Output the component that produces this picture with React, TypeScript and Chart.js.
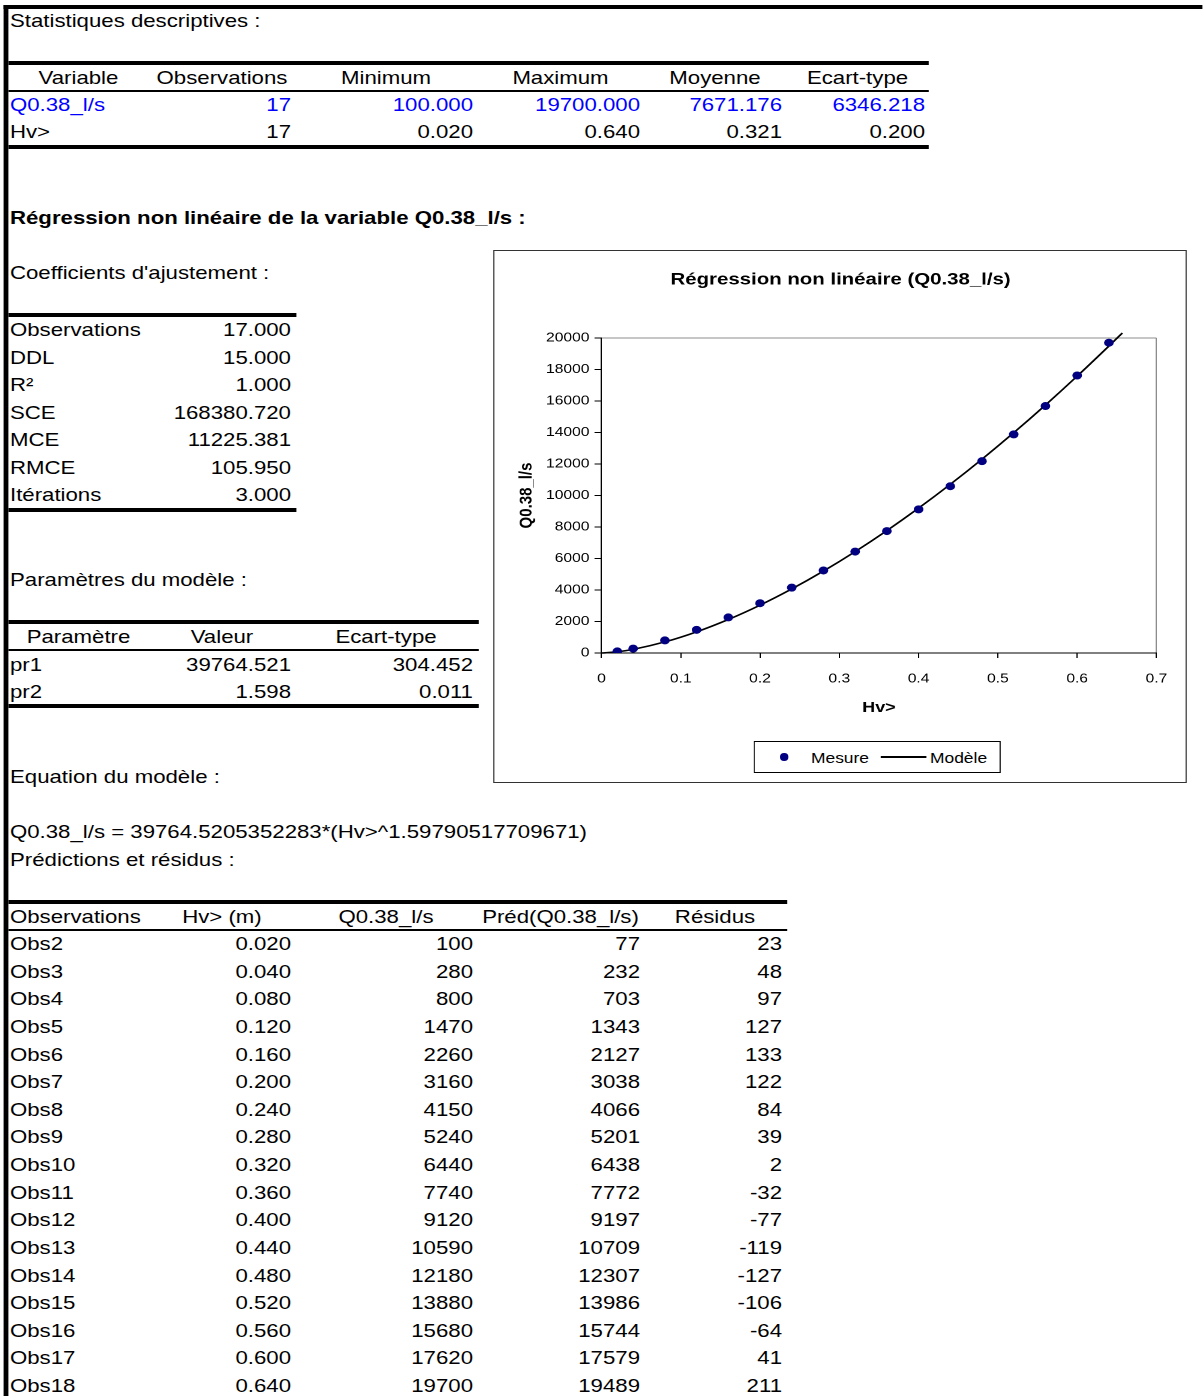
import React, { useEffect, useRef } from "react";
import { Chart, registerables } from "chart.js";

Chart.register(...registerables);

// ---------- data ----------
const statVars = ["Q0.38_l/s", "Hv>"];
const statObs = ["17", "17"];
const statMin = ["100.000", "0.020"];
const statMax = ["19700.000", "0.640"];
const statMean = ["7671.176", "0.321"];
const statSd = ["6346.218", "0.200"];

const coefLabels = ["Observations", "DDL", "R²", "SCE", "MCE", "RMCE", "Itérations"];
const coefValues = ["17.000", "15.000", "1.000", "168380.720", "11225.381", "105.950", "3.000"];

const paramNames = ["pr1", "pr2"];
const paramValues = ["39764.521", "1.598"];
const paramSd = ["304.452", "0.011"];

const obsNames = ["Obs2", "Obs3", "Obs4", "Obs5", "Obs6", "Obs7", "Obs8", "Obs9", "Obs10", "Obs11", "Obs12", "Obs13", "Obs14", "Obs15", "Obs16", "Obs17", "Obs18"];
const hv = [0.02, 0.04, 0.08, 0.12, 0.16, 0.2, 0.24, 0.28, 0.32, 0.36, 0.4, 0.44, 0.48, 0.52, 0.56, 0.6, 0.64];
const qMeasured = [100, 280, 800, 1470, 2260, 3160, 4150, 5240, 6440, 7740, 9120, 10590, 12180, 13880, 15680, 17620, 19700];
const qPredicted = [77, 232, 703, 1343, 2127, 3038, 4066, 5201, 6438, 7772, 9197, 10709, 12307, 13986, 15744, 17579, 19489];
const residuals = [23, 48, 97, 127, 133, 122, 84, 39, 2, -32, -77, -119, -127, -106, -64, 41, 211];

// model curve points (start at origin, end just above the top)
const modelStart = { x: 0, y: 0 };
const modelEnd = { x: 0.657, y: 20320 };

const xTicks = [0, 0.1, 0.2, 0.3, 0.4, 0.5, 0.6, 0.7];
const yTicks = [0, 2000, 4000, 6000, 8000, 10000, 12000, 14000, 16000, 18000, 20000];

const equation = "Q0.38_l/s = 39764.5205352283*(Hv>^1.59790517709671)";

// ---------- layout helpers ----------
const SX = 1.2;
const X = (v: number) => v / SX;
const FONT = '"Liberation Sans", Arial, Helvetica, sans-serif';
const FS = 18.5;
const NAVY = "#000080";
const EDGES = [8, 149, 295, 477, 644, 786, 929];
const DY = 1;

function Text(props: { x: number; cy: number; bold?: boolean; color?: string; children: any }) {
  return (
    <div
      style={{
        position: "absolute",
        left: X(props.x),
        top: props.cy - 14 + DY,
        height: 28,
        lineHeight: "28px",
        whiteSpace: "nowrap",
        fontWeight: props.bold ? "bold" : "normal",
        color: props.color || "#000",
      }}
    >
      {props.children}
    </div>
  );
}

function Cell(props: { col: number; cy: number; align: "left" | "right" | "center"; color?: string; children: any }) {
  const l = EDGES[props.col];
  const r = EDGES[props.col + 1];
  return (
    <div
      style={{
        position: "absolute",
        left: X(l),
        width: X(r - l),
        top: props.cy - 14 + DY,
        height: 28,
        lineHeight: "28px",
        whiteSpace: "nowrap",
        textAlign: props.align,
        paddingLeft: props.align === "left" ? X(2) : 0,
        paddingRight: props.align === "right" ? X(4) : 0,
        boxSizing: "border-box",
        color: props.color || "#000",
      }}
    >
      {props.children}
    </div>
  );
}

function HLine(props: { x1: number; x2: number; y: number; h: number }) {
  return (
    <div
      style={{
        position: "absolute",
        left: X(props.x1),
        width: X(props.x2 - props.x1),
        top: props.y,
        height: props.h,
        background: "#000",
      }}
    />
  );
}

function RegressionChart() {
  const ref = useRef<HTMLCanvasElement>(null);
  useEffect(() => {
    if (!ref.current) return;
    const measured = hv.map((x, i) => ({ x, y: qMeasured[i] }));
    const model = [modelStart, ...hv.map((x, i) => ({ x, y: qPredicted[i] })), modelEnd];
    const tickFont = { family: FONT, size: 13 };
    const chart = new Chart(ref.current, {
      type: "scatter",
      data: {
        datasets: [
          {
            label: "Mesure",
            data: measured,
            showLine: false,
            pointRadius: 4,
            pointBackgroundColor: NAVY,
            pointBorderColor: NAVY,
            pointBorderWidth: 0,
          },
          {
            label: "Modèle",
            data: model,
            showLine: true,
            pointRadius: 0,
            borderColor: "#000",
            borderWidth: 1.6,
            cubicInterpolationMode: "monotone",
            clip: { left: 2, right: 2, top: 6, bottom: 2 },
          } as any,
        ],
      },
      options: {
        responsive: false,
        animation: false,
        devicePixelRatio: 2,
        layout: { padding: { left: 0, right: 0, top: 0, bottom: 59 } },
        plugins: {
          legend: { display: false },
          tooltip: { enabled: false },
          title: {
            display: true,
            text: "Régression non linéaire (Q0.38_l/s)",
            color: "#000",
            font: { family: FONT, size: 17, weight: "bold" },
            padding: { top: 17.8, bottom: 47.8 },
          },
        },
        scales: {
          x: {
            type: "linear",
            position: "bottom",
            min: xTicks[0],
            max: xTicks[xTicks.length - 1],
            afterFit: (s: any) => {
              s.height = 70;
            },
            afterBuildTicks: (s: any) => {
              s.ticks = xTicks.map((v) => ({ value: v }));
            },
            ticks: {
              color: "#000",
              font: tickFont,
              padding: 13,
              callback: (v: any) => String(Number(Number(v).toFixed(1))),
            },
            grid: {
              color: (c: any) => (c.tick && c.tick.value > 0.69 ? "#8c8c8c" : "rgba(0,0,0,0)"),
              tickColor: "#000",
              tickLength: 5,
              lineWidth: 1,
            },
            border: { display: true, color: "#000", width: 1 },
            title: {
              display: true,
              text: "Hv>",
              color: "#000",
              font: { family: FONT, size: 15, weight: "bold" },
              padding: { top: 0, bottom: 6 },
            },
          },
          y: {
            type: "linear",
            position: "left",
            min: yTicks[0],
            max: yTicks[yTicks.length - 1],
            afterFit: (s: any) => {
              s.width = 89.2;
            },
            afterBuildTicks: (s: any) => {
              s.ticks = yTicks.map((v) => ({ value: v }));
            },
            ticks: {
              color: "#000",
              font: tickFont,
              padding: 4.2,
              callback: (v: any) => String(v),
            },
            grid: {
              color: (c: any) => (c.tick && c.tick.value > 19999 ? "#8c8c8c" : "rgba(0,0,0,0)"),
              tickColor: "#000",
              tickLength: 5.8,
              lineWidth: 1,
            },
            border: { display: true, color: "#000", width: 1 },
            title: {
              display: true,
              text: "Q0.38_l/s",
              color: "#000",
              font: { family: FONT, size: 15, weight: "bold" },
              padding: { top: 17.7, bottom: 0 },
            },
          },
          y2: {
            type: "linear",
            position: "right",
            display: true,
            afterFit: (s: any) => {
              s.width = 25.3;
            },
            ticks: { display: false },
            grid: { display: false, drawTicks: false },
            border: { display: false },
          },
        },
      } as any,
    });
    return () => chart.destroy();
  }, []);
  return (
    <canvas
      ref={ref}
      width={577}
      height={530}
      style={{ position: "absolute", left: X(494), top: 252, width: 577, height: 530 }}
    />
  );
}

export default function App() {
  const t4Row = (i: number) => 943 + i * 27.625;
  return (
    <div
      style={{
        position: "absolute",
        left: 0,
        top: 0,
        width: X(1203),
        height: 1396,
        transform: `scaleX(${SX})`,
        transformOrigin: "0 0",
        fontFamily: FONT,
        fontSize: FS,
        color: "#000",
        background: "#fff",
        overflow: "hidden",
      }}
    >
      {/* sheet borders */}
      <div style={{ position: "absolute", left: X(4), top: 5, width: X(4), height: 1391, background: "#000" }} />
      <div style={{ position: "absolute", left: X(4), top: 5, width: X(1199), height: 4, background: "#000" }} />

      <Text x={10} cy={20}>Statistiques descriptives :</Text>

      {/* table 1 */}
      <HLine x1={8} x2={929} y={61} h={4} />
      <Cell col={0} cy={77} align="center">Variable</Cell>
      <Cell col={1} cy={77} align="center">Observations</Cell>
      <Cell col={2} cy={77} align="center">Minimum</Cell>
      <Cell col={3} cy={77} align="center">Maximum</Cell>
      <Cell col={4} cy={77} align="center">Moyenne</Cell>
      <Cell col={5} cy={77} align="center">Ecart-type</Cell>
      <HLine x1={8} x2={929} y={90} h={2} />
      {statVars.map((v, i) => {
        const cy = 104 + i * 27;
        const color = i === 0 ? "#0000ff" : "#000";
        return (
          <React.Fragment key={v}>
            <Cell col={0} cy={cy} align="left" color={color}>{v}</Cell>
            <Cell col={1} cy={cy} align="right" color={color}>{statObs[i]}</Cell>
            <Cell col={2} cy={cy} align="right" color={color}>{statMin[i]}</Cell>
            <Cell col={3} cy={cy} align="right" color={color}>{statMax[i]}</Cell>
            <Cell col={4} cy={cy} align="right" color={color}>{statMean[i]}</Cell>
            <Cell col={5} cy={cy} align="right" color={color}>{statSd[i]}</Cell>
          </React.Fragment>
        );
      })}
      <HLine x1={8} x2={929} y={145} h={4} />

      <Text x={10} cy={217} bold>Régression non linéaire de la variable Q0.38_l/s :</Text>
      <Text x={10} cy={272}>Coefficients d'ajustement :</Text>

      {/* table 2 */}
      <HLine x1={8} x2={296} y={313} h={4} />
      {coefLabels.map((l, i) => {
        const cy = 329 + i * 27.5;
        return (
          <React.Fragment key={l}>
            <Cell col={0} cy={cy} align="left">{l}</Cell>
            <Cell col={1} cy={cy} align="right">{coefValues[i]}</Cell>
          </React.Fragment>
        );
      })}
      <HLine x1={8} x2={296} y={508} h={4} />

      <Text x={10} cy={579}>Paramètres du modèle :</Text>

      {/* table 3 */}
      <HLine x1={8} x2={479} y={620} h={4} />
      <Cell col={0} cy={636} align="center">Paramètre</Cell>
      <Cell col={1} cy={636} align="center">Valeur</Cell>
      <Cell col={2} cy={636} align="center">Ecart-type</Cell>
      <HLine x1={8} x2={479} y={649} h={2} />
      {paramNames.map((p, i) => {
        const cy = 664 + i * 27;
        return (
          <React.Fragment key={p}>
            <Cell col={0} cy={cy} align="left">{p}</Cell>
            <Cell col={1} cy={cy} align="right">{paramValues[i]}</Cell>
            <Cell col={2} cy={cy} align="right">{paramSd[i]}</Cell>
          </React.Fragment>
        );
      })}
      <HLine x1={8} x2={479} y={704} h={4} />

      <Text x={10} cy={776}>Equation du modèle :</Text>
      <Text x={10} cy={831}>{equation}</Text>
      <Text x={10} cy={859}>Prédictions et résidus :</Text>

      {/* table 4 */}
      <HLine x1={8} x2={787} y={900} h={4} />
      <Cell col={0} cy={916} align="left">Observations</Cell>
      <Cell col={1} cy={916} align="center">Hv&gt; (m)</Cell>
      <Cell col={2} cy={916} align="center">Q0.38_l/s</Cell>
      <Cell col={3} cy={916} align="center">Préd(Q0.38_l/s)</Cell>
      <Cell col={4} cy={916} align="center">Résidus</Cell>
      <HLine x1={8} x2={787} y={929} h={2} />
      {obsNames.map((o, i) => {
        const cy = t4Row(i);
        return (
          <React.Fragment key={o}>
            <Cell col={0} cy={cy} align="left">{o}</Cell>
            <Cell col={1} cy={cy} align="right">{hv[i].toFixed(3)}</Cell>
            <Cell col={2} cy={cy} align="right">{String(qMeasured[i])}</Cell>
            <Cell col={3} cy={cy} align="right">{String(qPredicted[i])}</Cell>
            <Cell col={4} cy={cy} align="right">{String(residuals[i])}</Cell>
          </React.Fragment>
        );
      })}

      {/* chart box */}
      <div
        style={{
          position: "absolute",
          left: X(493),
          top: 250,
          width: X(694),
          height: 533,
          border: "1.5px solid #333",
          boxSizing: "border-box",
          background: "#fff",
        }}
      />
      <RegressionChart />

      {/* legend */}
      <div
        style={{
          position: "absolute",
          left: X(754),
          top: 741,
          width: X(247),
          height: 32,
          border: "1.5px solid #000",
          boxSizing: "border-box",
          background: "#fff",
        }}
      />
      <div style={{ position: "absolute", left: X(780), top: 753, width: X(8), height: 8, borderRadius: "50%", background: NAVY }} />
      <div style={{ position: "absolute", left: X(811), top: 748, height: 20, lineHeight: "20px", fontSize: 14.5, whiteSpace: "nowrap" }}>Mesure</div>
      <div style={{ position: "absolute", left: X(881), top: 756, width: X(46), height: 1.6, background: "#000" }} />
      <div style={{ position: "absolute", left: X(930), top: 748, height: 20, lineHeight: "20px", fontSize: 14.5, whiteSpace: "nowrap" }}>Modèle</div>
    </div>
  );
}
